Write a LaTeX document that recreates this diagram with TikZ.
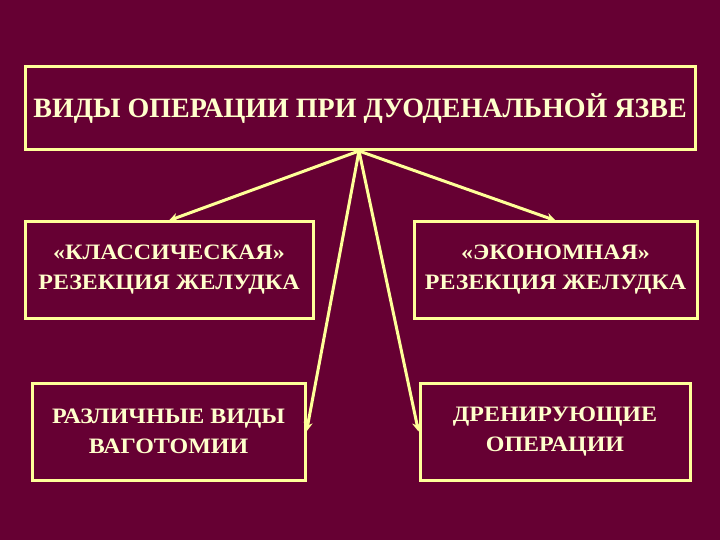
\documentclass[tikz,border=0pt]{standalone}
\usepackage{fontspec}
\setmainfont{Liberation Serif}
\newfontfamily\widefont[FakeStretch=1.09]{Liberation Serif}
\usetikzlibrary{arrows.meta}
\definecolor{bg}{HTML}{660033}
\definecolor{fg}{HTML}{FFFF99}
\definecolor{tx}{HTML}{FFFFCC}
\begin{document}
\begin{tikzpicture}[x=1pt,y=-1pt,
  box/.style={draw=fg,line width=3pt,inner sep=0pt,text=tx,font=\widefont\bfseries\fontsize{22}{30}\selectfont,align=center},
  conn/.style={draw=fg,line width=3pt,-{Stealth[length=9pt,width=9pt]}}]
\fill[bg] (0,0) rectangle (720,540);
\useasboundingbox (0,0) rectangle (720,540);
\node[box,minimum width=670pt,minimum height=83pt,font=\rmfamily\bfseries\fontsize{28}{34}\selectfont] (top) at (360,108.5) {ВИДЫ ОПЕРАЦИИ ПРИ ДУОДЕНАЛЬНОЙ ЯЗВЕ};
\node[box,minimum width=288pt,minimum height=96pt] (b1) at (169,270) {«КЛАССИЧЕСКАЯ»\\РЕЗЕКЦИЯ ЖЕЛУДКА};
\node[box,minimum width=283pt,minimum height=96pt] (b2) at (555.5,270) {«ЭКОНОМНАЯ»\\РЕЗЕКЦИЯ ЖЕЛУДКА};
\node[box,minimum width=273pt,minimum height=97pt] (b3) at (168.5,431.5) {РАЗЛИЧНЫЕ ВИДЫ\\ВАГОТОМИИ};
\node[box,minimum width=270pt,minimum height=97pt] (b4) at (555,431.5) {ДРЕНИРУЮЩИЕ\\ОПЕРАЦИИ};
\coordinate (s) at (359,151);
\draw[conn] (s) -- (b1.north);
\draw[conn] (s) -- (b2.north);
\draw[conn] (s) -- (b3.east);
\draw[conn] (s) -- (b4.west);
\end{tikzpicture}
\end{document}
